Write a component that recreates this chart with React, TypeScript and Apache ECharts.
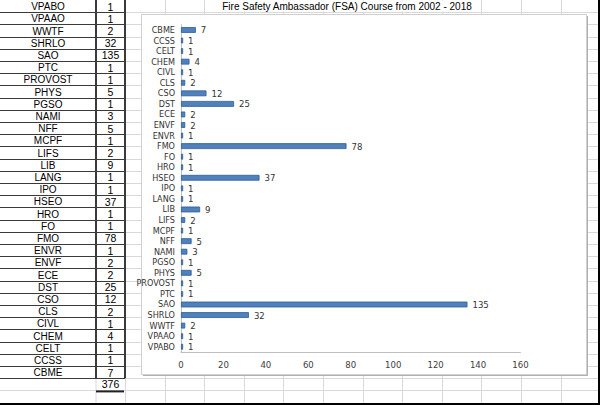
import React, { useEffect, useRef } from "react";
import * as echarts from "echarts";

// ---- data ----
const chartTitle = "Fire Safety Ambassador (FSA) Course from 2002 - 2018";
const categories = [
  "CBME", "CCSS", "CELT", "CHEM", "CIVL", "CLS", "CSO", "DST", "ECE", "ENVF",
  "ENVR", "FMO", "FO", "HRO", "HSEO", "IPO", "LANG", "LIB", "LIFS", "MCPF",
  "NFF", "NAMI", "PGSO", "PHYS", "PROVOST", "PTC", "SAO", "SHRLO", "WWTF", "VPAAO", "VPABO",
];
const counts = [
  7, 1, 1, 4, 1, 2, 12, 25, 2, 2,
  1, 78, 1, 1, 37, 1, 1, 9, 2, 1,
  5, 3, 1, 5, 1, 1, 135, 32, 2, 1, 1,
];
const totalCount = 376;
const xMin = 0;
const xMax = 160;
const xStep = 20;

// ---- layout ----
const W = 600;
const H = 405;
const ROW_H = 12.2;
const COL_A_R = 96;
const COL_B_R = 125;
const COL_W = 39.6;
const BOX = { x: 141, y: 14, w: 445, h: 360 };
const SHEET_FONT = "'Liberation Sans', Arial, sans-serif";
const CHART_FONT = "'Liberation Sans Narrow', 'DejaVu Sans Condensed', 'Liberation Sans', sans-serif";

function buildGraphics() {
  const els: any[] = [];
  const light = "#d9d9d9";
  const dark = "#3a3a3a";
  els.push({ type: "rect", z: 0, shape: { x: 0, y: 0, width: W, height: H }, style: { fill: "#ffffff" } });
  // spreadsheet grid (light)
  for (let k = 1; k * ROW_H < H; k++) {
    const y = Math.round(k * ROW_H) + 0.5;
    els.push({ type: "line", z: 0, shape: { x1: 0, y1: y, x2: W, y2: y }, style: { stroke: light, lineWidth: 1 } });
  }
  for (let j = 0; COL_B_R + j * COL_W < W; j++) {
    const x = Math.round(COL_B_R + j * COL_W) + 0.5;
    els.push({ type: "line", z: 0, shape: { x1: x, y1: 0, x2: x, y2: H }, style: { stroke: light, lineWidth: 1 } });
  }
  els.push({ type: "line", z: 0, shape: { x1: COL_A_R, y1: 0, x2: COL_A_R, y2: H }, style: { stroke: light, lineWidth: 1 } });
  // table with dark borders
  const rows = categories.slice().reverse();
  const vals = counts.slice().reverse();
  const tableBottom = rows.length * ROW_H;
  for (let k = 1; k <= rows.length; k++) {
    const y = Math.round(k * ROW_H) + 0.5;
    els.push({ type: "line", z: 1, shape: { x1: 0, y1: y, x2: COL_B_R, y2: y }, style: { stroke: dark, lineWidth: 1 } });
  }
  els.push({ type: "line", z: 1, shape: { x1: COL_A_R, y1: 0, x2: COL_A_R, y2: tableBottom }, style: { stroke: dark, lineWidth: 2 } });
  els.push({ type: "line", z: 1, shape: { x1: COL_B_R, y1: 0, x2: COL_B_R, y2: tableBottom }, style: { stroke: dark, lineWidth: 2 } });
  rows.forEach((name, i) => {
    const cy = (i + 0.5) * ROW_H + 0.5;
    els.push({
      type: "text", z: 2, x: COL_A_R / 2, y: cy,
      style: { text: name, fill: "#000", font: `10px ${SHEET_FONT}`, align: "center", verticalAlign: "middle" },
    });
    els.push({
      type: "text", z: 2, x: (COL_A_R + COL_B_R) / 2, y: cy,
      style: { text: String(vals[i]), fill: "#000", font: `10.5px ${SHEET_FONT}`, align: "center", verticalAlign: "middle" },
    });
  });
  // total row
  els.push({
    type: "text", z: 2, x: (COL_A_R + COL_B_R) / 2, y: tableBottom + ROW_H / 2,
    style: { text: String(totalCount), fill: "#000", font: `10.5px ${SHEET_FONT}`, align: "center", verticalAlign: "middle" },
  });
  els.push({ type: "line", z: 2, shape: { x1: COL_A_R, y1: tableBottom + ROW_H + 1, x2: COL_B_R - 1, y2: tableBottom + ROW_H + 1 }, style: { stroke: "#222", lineWidth: 2 } });
  // title in sheet cell
  els.push({
    type: "rect", z: 1, shape: { x: 230, y: 0.5, width: 235, height: 11 }, style: { fill: "#fff" },
  });
  els.push({
    type: "text", z: 2, x: 347, y: 6.5,
    style: { text: chartTitle, fill: "#000", font: `10px ${SHEET_FONT}`, align: "center", verticalAlign: "middle" },
  });
  // chart box with shadow
  els.push({ type: "rect", z: 2, shape: { x: BOX.x + 2, y: BOX.y + 2, width: BOX.w, height: BOX.h }, style: { fill: "#b0b0b0" } });
  els.push({ type: "rect", z: 2, shape: { x: BOX.x + 0.5, y: BOX.y + 0.5, width: BOX.w, height: BOX.h }, style: { fill: "#ffffff", stroke: "#d0d0d0", lineWidth: 1 } });
  // outer black border
  els.push({ type: "rect", z: 3, shape: { x: W - 2, y: 0, width: 2, height: H }, style: { fill: "#000" } });
  els.push({ type: "rect", z: 3, shape: { x: 0, y: H - 2, width: W, height: 2 }, style: { fill: "#000" } });
  return els;
}

export default function App() {
  const ref = useRef<HTMLDivElement>(null);
  useEffect(() => {
    document.body.style.margin = "0";
    if (!ref.current) return;
    const chart = echarts.init(ref.current, null, { renderer: "svg" });
    chart.setOption({
      animation: false,
      backgroundColor: "#ffffff",
      graphic: { elements: buildGraphics() },
      grid: { left: 181, right: W - 520.5, top: 24.7, bottom: H - 352, containLabel: false },
      xAxis: {
        type: "value",
        min: xMin,
        max: xMax,
        interval: xStep,
        z: 10,
        axisLine: { show: true, lineStyle: { color: "#bfbfbf", width: 1 } },
        axisTick: { show: false },
        splitLine: { show: false },
        axisLabel: { color: "#404040", fontSize: 9.5, fontFamily: CHART_FONT, margin: 7 },
      },
      yAxis: {
        type: "category",
        data: categories,
        inverse: true,
        z: 10,
        axisLine: { show: true, lineStyle: { color: "#bfbfbf", width: 1 } },
        axisTick: { show: false },
        splitLine: { show: false },
        axisLabel: { color: "#333333", fontSize: 9, fontFamily: CHART_FONT, margin: 6, interval: 0 },
      },
      series: [
        {
          type: "bar",
          data: counts,
          z: 10,
          barWidth: "55%",
          itemStyle: { color: "#4f81bd", borderColor: "#2f5d96", borderWidth: 0.8 },
          label: {
            show: true,
            position: "right",
            distance: 5,
            color: "#333333",
            fontSize: 9.5,
            fontFamily: CHART_FONT,
          },
        },
      ],
    });
    return () => chart.dispose();
  }, []);
  return <div ref={ref} style={{ width: W, height: H }} />;
}
